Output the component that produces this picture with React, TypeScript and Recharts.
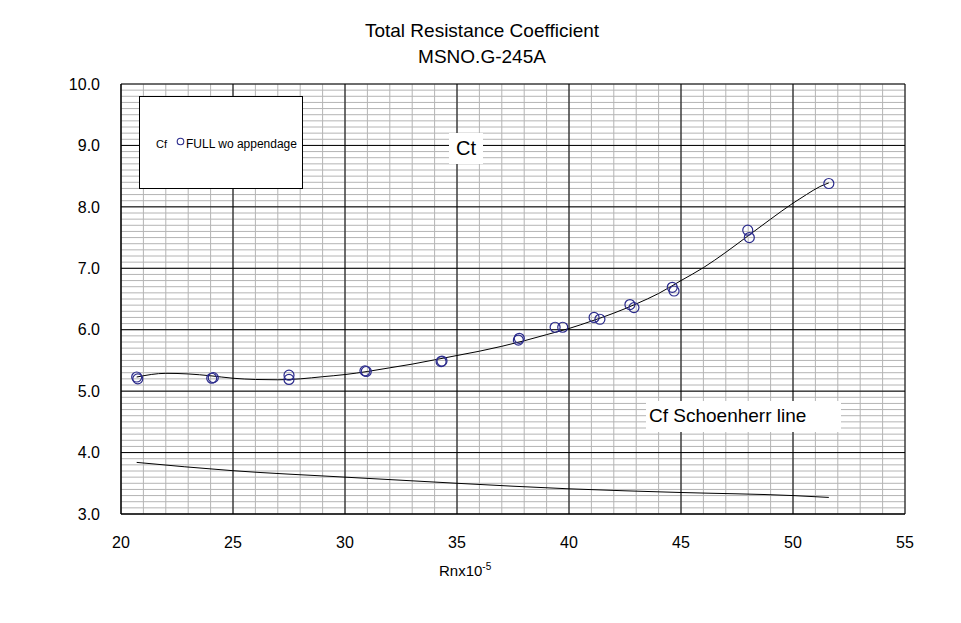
import { ComposedChart, XAxis, YAxis, CartesianGrid, Scatter, Line } from "recharts";

// measured points, model FULL wo appendage
const RN_FULL = [20.7, 20.75, 24.05, 24.12, 27.5, 27.5, 30.89, 30.95, 34.29, 34.33, 37.74, 37.78, 39.38, 39.72, 41.12, 41.38, 42.72, 42.9, 44.61, 44.69, 47.98, 48.05, 51.6];
const CT_FULL = [5.23, 5.2, 5.21, 5.22, 5.26, 5.19, 5.33, 5.32, 5.48, 5.49, 5.83, 5.86, 6.04, 6.04, 6.2, 6.17, 6.41, 6.36, 6.69, 6.63, 7.62, 7.5, 8.38];

// faired Ct curve
const RN_FAIR = [20.7, 22, 23, 24, 25, 26, 27, 28, 29, 30, 31, 32, 33, 34, 35, 36, 37, 38, 39, 40, 41, 42, 43, 44, 45, 46, 47, 48, 49, 50, 50.6, 51.2, 51.6];
const CT_FAIR = [5.23, 5.29, 5.28, 5.25, 5.21, 5.19, 5.185, 5.2, 5.235, 5.27, 5.32, 5.38, 5.44, 5.51, 5.58, 5.65, 5.73, 5.82, 5.92, 6.02, 6.14, 6.27, 6.42, 6.59, 6.8, 7.01, 7.26, 7.53, 7.8, 8.06, 8.2, 8.33, 8.39];

// Schoenherr friction line
const RN_SCH = [20.7, 25, 30, 35, 40, 45, 50, 51.6];
const CF_SCH = [3.84, 3.705, 3.6, 3.5, 3.41, 3.35, 3.3, 3.27];

const X_TICKS = [20, 25, 30, 35, 40, 45, 50, 55];
const Y_TICKS = [3, 4, 5, 6, 7, 8, 9, 10];

const fullPoints = RN_FULL.map((rn, i) => ({ rn, ct: CT_FULL[i] }));
const fairPoints = RN_FAIR.map((rn, i) => ({ rn, ct: CT_FAIR[i] }));
const schPoints = RN_SCH.map((rn, i) => ({ rn, ct: CF_SCH[i] }));

const minorX: number[] = [];
for (let v = 20; v <= 55; v++) minorX.push(v);
const minorY: number[] = [];
for (let i = 0; i <= 70; i++) minorY.push(Math.round((3 + i * 0.1) * 10) / 10);

const FONT = "'Liberation Sans', Arial, sans-serif";
const NAVY = "#2b2b8c";
const crisp = { shapeRendering: "crispEdges" } as any;

function Ring(props: any) {
  const { cx, cy } = props;
  if (cx == null || cy == null) return null;
  return <circle cx={cx} cy={cy} r={5} fill="none" stroke={NAVY} strokeWidth={1.2} />;
}

export default function App() {
  return (
    <div style={{ position: "absolute", left: 0, top: 0, width: 961, height: 623, background: "#fff", fontFamily: FONT }}>
      <ComposedChart
        width={961}
        height={623}
        margin={{ top: 84, right: 56, bottom: 79, left: 61 }}
      >
        <CartesianGrid
          stroke="#b4b4b4"
          strokeWidth={1}
          horizontal={crisp}
          vertical={crisp}
          horizontalValues={minorY}
          verticalValues={minorX}
        />
        <CartesianGrid
          stroke="#000"
          strokeWidth={1}
          horizontal={crisp}
          vertical={crisp}
          horizontalValues={Y_TICKS}
          verticalValues={X_TICKS}
        />
        <XAxis
          type="number"
          dataKey="rn"
          domain={[20, 55]}
          ticks={X_TICKS}
          interval={0}
          allowDataOverflow
          height={30}
          axisLine={{ stroke: "#000" }}
          tickLine={false}
          tickSize={0}
          tickMargin={23}
          tick={{ fill: "#000", fontSize: 16, fontFamily: FONT }}
        />
        <YAxis
          type="number"
          domain={[3, 10]}
          ticks={Y_TICKS}
          interval={0}
          allowDataOverflow
          width={60}
          axisLine={{ stroke: "#000" }}
          tickLine={false}
          tickSize={0}
          tickMargin={21}
          tickFormatter={(v: number) => v.toFixed(1)}
          tick={{ fill: "#000", fontSize: 16, fontFamily: FONT }}
        />
        <Line
          data={schPoints}
          dataKey="ct"
          type="monotone"
          stroke="#000"
          strokeWidth={1}
          dot={false}
          activeDot={false}
          isAnimationActive={false}
        />
        <Line
          data={fairPoints}
          dataKey="ct"
          type="monotone"
          stroke="#000"
          strokeWidth={1}
          dot={false}
          activeDot={false}
          isAnimationActive={false}
        />
        <Scatter data={fullPoints} dataKey="ct" shape={<Ring />} isAnimationActive={false} />
      </ComposedChart>

      {/* titles */}
      <div style={{ position: "absolute", left: 0, width: 964, top: 18, textAlign: "center", fontSize: 19, lineHeight: "26px", color: "#000" }}>
        <div>Total Resistance Coefficient</div>
        <div>MSNO.G-245A</div>
      </div>

      {/* legend */}
      <div style={{ position: "absolute", left: 139, top: 96, width: 164, height: 93, background: "#fff", border: "1px solid #000", boxSizing: "border-box" }}>
        <span style={{ position: "absolute", left: 16, top: 41, fontSize: 11, color: "#000" }}>Cf</span>
        <svg style={{ position: "absolute", left: 36, top: 40 }} width={9} height={9}>
          <circle cx={4.5} cy={4.5} r={3.3} fill="none" stroke={NAVY} strokeWidth={1.1} />
        </svg>
        <span style={{ position: "absolute", left: 46, top: 40, fontSize: 12, color: "#000", whiteSpace: "nowrap" }}>FULL wo appendage</span>
      </div>

      {/* Ct label */}
      <div style={{ position: "absolute", left: 449, top: 133, width: 34, height: 31, background: "#fff", textAlign: "center", fontSize: 20, lineHeight: "31px", color: "#000" }}>Ct</div>

      {/* Schoenherr label */}
      <div style={{ position: "absolute", left: 646, top: 401, width: 195, height: 31, background: "#fff", fontSize: 19, lineHeight: "29px", color: "#000", paddingLeft: 3, boxSizing: "border-box", whiteSpace: "nowrap" }}>Cf Schoenherr line</div>

      {/* x-axis title */}
      <div style={{ position: "absolute", left: 439, top: 561, fontSize: 15, color: "#000", whiteSpace: "nowrap" }}>
        Rnx10<sup style={{ fontSize: 10 }}>-5</sup>
      </div>
    </div>
  );
}
